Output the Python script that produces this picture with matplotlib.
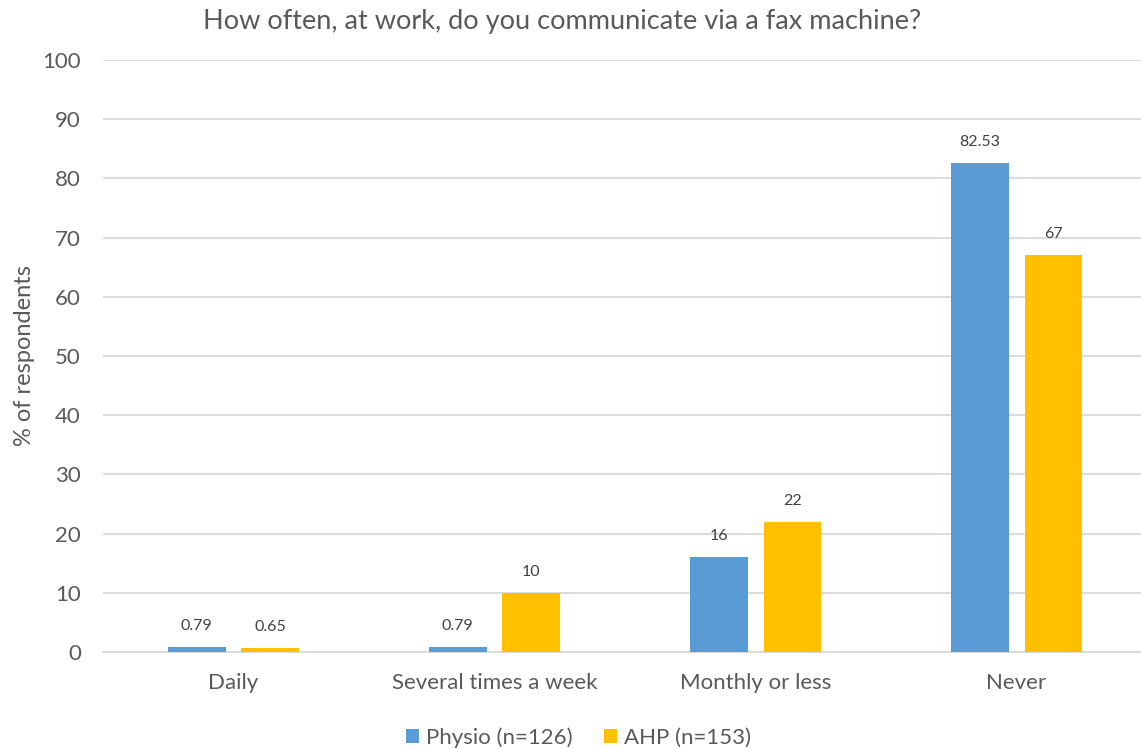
import matplotlib
matplotlib.use("Agg")
import matplotlib.pyplot as plt
import numpy as np

categories = ["Daily", "Several times a week", "Monthly or less", "Never"]
physio = [0.79, 0.79, 16, 82.53]
ahp = [0.65, 10, 22, 67]
physio_labels = ["0.79", "0.79", "16", "82.53"]
ahp_labels = ["0.65", "10", "22", "67"]
series_names = ["Physio (n=126)", "AHP (n=153)"]
yticks = list(range(0, 101, 10))

plt.rcParams['font.family'] = ['Lato', 'DejaVu Sans']
text_col = "#595959"
blue = "#5B9BD5"
gold = "#FFC000"

fig = plt.figure(figsize=(11.41, 7.49), dpi=100)
ax = fig.add_axes([0.0903, 0.1295, 0.915, 0.7905])

x = np.arange(len(categories))
w = 0.222
off = 0.1415
b1 = ax.bar(x - off, physio, w, color=blue, label=series_names[0], zorder=3)
b2 = ax.bar(x + off, ahp, w, color=gold, label=series_names[1], zorder=3)

for bars, labs in ((b1, physio_labels), (b2, ahp_labels)):
    for r, lab in zip(bars, labs):
        ax.annotate(lab, (r.get_x() + r.get_width() / 2, r.get_height()),
                    xytext=(0, 10), textcoords="offset points",
                    ha="center", va="bottom", fontsize=11.5, color="#404040")

ax.set_xlim(-0.5, 3.5)
ax.set_ylim(0, 100)
ax.set_yticks(yticks)
ax.set_xticks(x)
ax.set_xticklabels(categories)
ax.tick_params(axis="both", length=0, labelsize=16, colors=text_col)
ax.tick_params(axis="x", pad=15)
ax.tick_params(axis="y", pad=16)
ax.yaxis.grid(True, color="#D9D9D9", linewidth=1.3, zorder=0)
for s in ("top", "right", "left"):
    ax.spines[s].set_visible(False)
ax.spines["bottom"].set_color("#D9D9D9")
ax.spines["bottom"].set_linewidth(1.3)

ax.set_ylabel("% of respondents", fontsize=17, color=text_col, labelpad=5)
fig.suptitle("How often, at work, do you communicate via a fax machine?",
             fontsize=19.5, color=text_col, x=0.493, y=0.988, va="top")

fig.legend(loc="lower center", bbox_to_anchor=(0.507, -0.025), ncol=2,
           frameon=False, fontsize=16, labelcolor=text_col,
           handlelength=0.6, handleheight=0.6, handletextpad=0.3,
           columnspacing=1.4)

fig.savefig("out.png", dpi=100, facecolor="white")
